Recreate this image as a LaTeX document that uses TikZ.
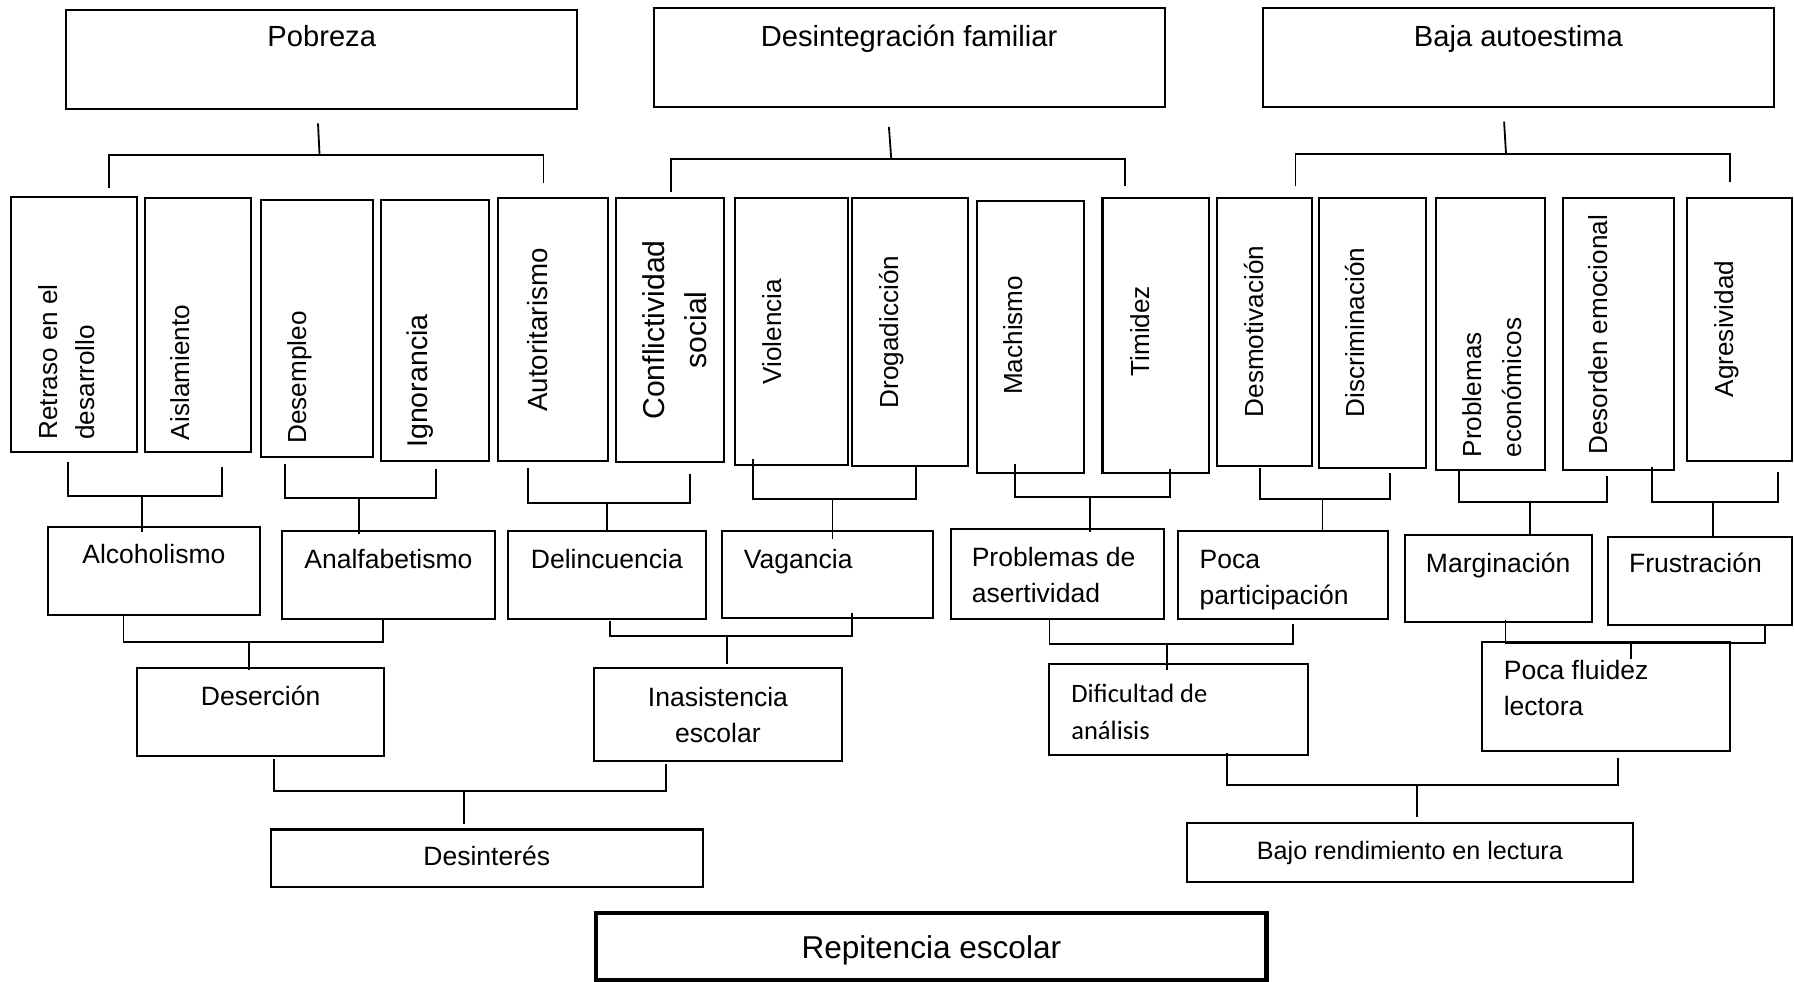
\documentclass[tikz,border=0pt]{standalone}
\usepackage{fontspec}
\setmainfont{Liberation Sans}
\newfontfamily\calibri{Carlito}
\usetikzlibrary{fit,calc}

\tikzset{
  caja/.style={rectangle, draw, line width=1pt, inner sep=0pt},
  cajagruesa/.style={caja, line width=2.2pt},
  titulo/.style={inner sep=0pt, font=\fontsize{14.5}{17}\selectfont},
  rotulo/.style={inner sep=0pt, font=\fontsize{13.2}{17.8}\selectfont},
  vertical/.style={rotate=90, inner sep=0pt, font=\fontsize{13}{18.2}\selectfont},
  linea/.style={line width=0.9pt},
}

\begin{document}
\begin{tikzpicture}[x=0.02cm, y=0.02cm]
\useasboundingbox (0,0) rectangle (1568,-858);

\node[caja, fit={(57.9,-8.7) (504.4,-95.3)}] (pobreza) {};
\node[caja, fit={(571.3,-7.3) (1017.8,-93.8)}] (desintegracion) {};
\node[caja, fit={(1103.8,-7.3) (1550.4,-93.8)}] (baja) {};
\node[titulo, anchor=base] (pobreza-t) at (281.2,-41) {Pobreza};
\node[titulo, anchor=base] (desintegracion-t) at (794.6,-41) {Desintegración familiar};
\node[titulo, anchor=base] (baja-t) at (1327.1,-41) {Baja autoestima};

\node[caja, fit={(10,-172) (120,-395)}] (retraso) {};
\node[caja, fit={(126.4,-173) (219,-395)}] (aislamiento) {};
\node[caja, fit={(228,-175) (326,-399)}] (desempleo) {};
\node[caja, fit={(333,-175) (427.5,-403)}] (ignorancia) {};
\node[caja, fit={(435.5,-173) (531,-403)}] (autoritarismo) {};
\node[caja, fit={(538.8,-173) (633.2,-404)}] (conflictividad) {};
\node[caja, fit={(642,-173) (741,-406)}] (violencia) {};
\node[caja, fit={(745,-173) (846,-407)}] (drogadiccion) {};
\node[caja, fit={(854,-175.4) (947.5,-413)}] (machismo) {};
\node[caja, fit={(963.6,-173) (1057,-413)}] (timidez) {};
\node[caja, fit={(1063.7,-173) (1146.8,-407)}] (desmotivacion) {};
\node[caja, fit={(1152.7,-173) (1246.3,-409)}] (discriminacion) {};
\node[caja, fit={(1254.7,-173) (1350,-411)}] (problemasEco) {};
\node[caja, fit={(1365.7,-173) (1463.4,-411)}] (desorden) {};
\node[caja, fit={(1474.5,-173) (1566,-402.6)}] (agresividad) {};

\node[vertical, anchor=north west, align=left] (retraso-t) at (33.5,-384.6) {Retraso en el\\desarrollo};
\node[vertical, anchor=north west] (aislamiento-t) at (149,-385) {Aislamiento};
\node[vertical, anchor=north west] (desempleo-t) at (251,-388) {Desempleo};
\node[vertical, anchor=north west, font=\fontsize{14.2}{18}\selectfont] (ignorancia-t) at (355,-391.7) {Ignorancia};
\node[vertical, anchor=north, font=\fontsize{13.8}{18}\selectfont] (autoritarismo-t) at (461,-288.4) {Autoritarismo};
\node[vertical, anchor=north, align=center, font=\fontsize{15}{21}\selectfont] (conflictividad-t) at (561.2,-288.4) {Conflictividad\\social};
\node[vertical, anchor=north] (violencia-t) at (666.5,-290) {Violencia};
\node[vertical, anchor=north] (drogadiccion-t) at (768,-290.3) {Drogadicción};
\node[vertical, anchor=north] (machismo-t) at (877,-293) {Machismo};
\node[vertical, anchor=north] (timidez-t) at (987.7,-289.5) {Timidez};
\node[vertical, anchor=north] (desmotivacion-t) at (1087,-289.8) {Desmotivación};
\node[vertical, anchor=north] (discriminacion-t) at (1175.6,-290.6) {Discriminación};
\node[vertical, anchor=north west, align=left, font=\fontsize{13}{20}\selectfont] (problemasEco-t) at (1278,-400) {Problemas\\económicos};
\node[vertical, anchor=north west] (desorden-t) at (1388,-397.7) {Desorden emocional};
\node[vertical, anchor=north] (agresividad-t) at (1498.6,-287.5) {Agresividad};

\node[caja, fit={(42,-460.3) (227,-537.3)}] (alcoholismo) {};
\node[caja, fit={(246.4,-464) (432.5,-541.3)}] (analfabetismo) {};
\node[caja, fit={(443.6,-464) (617.2,-541.3)}] (delincuencia) {};
\node[caja, fit={(630.7,-464) (815.5,-540.5)}] (vagancia) {};
\node[caja, fit={(831,-462) (1017,-541.3)}] (asertividad) {};
\node[caja, fit={(1030,-464) (1213,-541.3)}] (participacion) {};
\node[caja, fit={(1228,-468) (1391,-543.9)}] (marginacion) {};
\node[caja, fit={(1405.4,-469) (1566,-546.3)}] (frustracion) {};

\node[rotulo, anchor=base] (alcoholismo-t) at (134.5,-492.5) {Alcoholismo};
\node[rotulo, anchor=base] (analfabetismo-t) at (339.5,-497.3) {Analfabetismo};
\node[rotulo, anchor=base] (delincuencia-t) at (530.4,-497.3) {Delincuencia};
\node[rotulo, anchor=base west] (vagancia-t) at (649.8,-497.3) {Vagancia};
\node[rotulo, anchor=north west, align=left] (asertividad-t) at (849,-477.8) {Problemas de\\asertividad};
\node[rotulo, anchor=north west, align=left] (participacion-t) at (1048.2,-480.7) {Poca\\participación};
\node[rotulo, anchor=base] (marginacion-t) at (1309.5,-500.8) {Marginación};
\node[rotulo, anchor=base west] (frustracion-t) at (1423.5,-500.8) {Frustración};

\node[caja, fit={(119.5,-584) (336,-661)}] (desercion) {};
\node[caja, fit={(519,-584) (736,-665)}] (inasistencia) {};
\node[caja, fit={(917,-580) (1143,-660)}] (dificultad) {};
\node[caja, fit={(1295,-561) (1512,-656)}] (fluidez) {};

\node[rotulo, anchor=base] (desercion-t) at (227.8,-616.8) {Deserción};
\node[rotulo, anchor=north, align=center] (inasistencia-t) at (627.5,-600.2) {Inasistencia\\escolar};
\node[rotulo, anchor=north west, align=left, font=\calibri\fontsize{13.2}{18.5}\selectfont] (dificultad-t) at (936,-597.3) {Dificultad de\\análisis};
\node[rotulo, anchor=north west, align=left] (fluidez-t) at (1314,-576.9) {Poca fluidez\\lectora};

\node[caja, fit={(237,-725) (614,-775)}] (desinteres) {};
\node[caja, fit={(1037.5,-719) (1427,-771)}] (bajoRend) {};
\node[cajagruesa, fit={(521,-798) (1107,-856.6)}] (repitencia) {};

\node[rotulo, anchor=base] (desinteres-t) at (425.5,-756.6) {Desinterés};
\node[rotulo, anchor=base, font=\fontsize{12.5}{15}\selectfont] (bajoRend-t) at (1232.3,-751.4) {Bajo rendimiento en lectura};
\node[rotulo, anchor=base, font=\fontsize{15.7}{19}\selectfont] (repitencia-t) at (814,-838) {Repitencia escolar};

\coordinate (pobJ) at (279.3,-135.5);
\coordinate (pobL) at (95.3,-135.5);
\coordinate (pobR) at (475,-135.5);
\draw[linea] ($(pobreza.south)+(-3.2,-11.7)$) -- (pobJ);
\draw[linea] ($(pobL |- retraso.north)+(0,6.5)$) -- (pobL) -- (pobR) -- ($(pobR |- autoritarismo.north)+(0,12.2)$);

\coordinate (desJ) at (779,-139.3);
\coordinate (desL) at (586.3,-139.3);
\coordinate (desR) at (983.3,-139.3);
\draw[linea] ($(desintegracion.south)+(-17.6,-16.2)$) -- (desJ);
\draw[linea] ($(desL |- conflictividad.north)+(0,4.6)$) -- (desL) -- (desR) -- ($(desR |- timidez.north)+(0,9.3)$);

\coordinate (bajJ) at (1316.3,-134.6);
\coordinate (bajL) at (1132.2,-134.6);
\coordinate (bajR) at (1512,-134.6);
\draw[linea] ($(baja.south)+(-12.5,-11.7)$) -- (bajJ);
\draw[linea] ($(bajL |- desmotivacion.north)+(0,9.3)$) -- (bajL) -- (bajR) -- ($(bajR |- agresividad.north)+(0,13.3)$);

\coordinate (alcL) at (59.5,-433.5);
\coordinate (alcR) at (194,-433.5);
\coordinate (alcJ) at (124.4,-433.5);
\draw[linea] ($(alcL |- retraso.south)+(0,-7.6)$) -- (alcL) -- (alcR) -- ($(alcR |- aislamiento.south)+(0,-12.4)$);
\draw[linea] (alcJ) -- ($(alcJ |- alcoholismo.north)+(0,-5.3)$);

\coordinate (anaL) at (249.3,-435.6);
\coordinate (anaR) at (381.3,-435.6);
\coordinate (anaJ) at (313.5,-435.6);
\draw[linea] ($(anaL |- desempleo.south)+(0,-5.9)$) -- (anaL) -- (anaR) -- ($(anaR |- ignorancia.south)+(0,-6)$);
\draw[linea] (anaJ) -- ($(anaJ |- analfabetismo.north)+(0,-3.6)$);

\coordinate (delL) at (461.6,-439.4);
\coordinate (delR) at (603,-439.4);
\coordinate (delJ) at (530.4,-439.4);
\draw[linea] ($(delL |- autoritarismo.south)+(0,-5)$) -- (delL) -- (delR) -- ($(delR |- conflictividad.south)+(0,-9)$);
\draw[linea] (delJ) -- (delJ |- delincuencia.north);

\coordinate (vagL) at (658.2,-436.4);
\coordinate (vagR) at (800.6,-436.4);
\coordinate (vagJ) at (727.6,-436.4);
\draw[linea] ($(vagL |- violencia.south)+(0,5.5)$) -- (vagL) -- (vagR) -- ($(vagR |- drogadiccion.south)+(0,0.6)$);
\draw[linea] (vagJ) -- ($(vagJ |- vagancia.north)+(0,-8)$);

\coordinate (aseL) at (887,-434.7);
\coordinate (aseR) at (1022.6,-434.7);
\coordinate (aseJ) at (953,-434.7);
\draw[linea] ($(aseL |- machismo.south)+(0,8.6)$) -- (aseL) -- (aseR) -- ($(aseR |- timidez.south)+(0,4)$);
\draw[linea] (aseJ) -- ($(aseJ |- asertividad.north)+(0,-4.2)$);

\coordinate (parL) at (1101,-436.4);
\coordinate (parR) at (1215.2,-436.4);
\coordinate (parJ) at (1155.8,-436.4);
\draw[linea] ($(parL |- desmotivacion.south)+(0,-0.9)$) -- (parL) -- (parR) -- ($(parR |- discriminacion.south)+(0,-3.3)$);
\draw[linea] (parJ) -- ($(parJ |- participacion.north)+(0,-0.7)$);

\coordinate (marL) at (1275,-438.5);
\coordinate (marR) at (1404.8,-438.5);
\coordinate (marJ) at (1337.5,-438.5);
\draw[linea] ($(marL |- problemasEco.south)+(0,2)$) -- (marL) -- (marR) -- ($(marR |- desorden.south)+(0,-4)$);
\draw[linea] (marJ) -- (marJ |- marginacion.north);

\coordinate (fruL) at (1444,-438.5);
\coordinate (fruR) at (1553.7,-438.5);
\coordinate (fruJ) at (1497,-438.5);
\draw[linea] ($(fruL |- desorden.south)+(0,4)$) -- (fruL) -- (fruR) -- ($(fruR |- agresividad.south)+(0,-9.4)$);
\draw[linea] (fruJ) -- ($(fruJ |- frustracion.north)+(0,-1.5)$);

\coordinate (dseL) at (108,-560.8);
\coordinate (dseR) at (334.7,-560.8);
\coordinate (dseJ) at (217.3,-560.8);
\draw[linea] ($(dseL |- alcoholismo.south)+(0,1.8)$) -- (dseL) -- (dseR) -- ($(dseR |- analfabetismo.south)+(0,2.3)$);
\draw[linea] (dseJ) -- ($(dseJ |- desercion.north)+(0,-2.2)$);

\coordinate (inaL) at (532.9,-555.6);
\coordinate (inaR) at (744.6,-555.6);
\coordinate (inaJ) at (635.7,-555.6);
\draw[linea] ($(inaL |- delincuencia.south)+(0,-0.7)$) -- (inaL) -- (inaR) -- ($(inaR |- vagancia.south)+(0,5.9)$);
\draw[linea] (inaJ) -- ($(inaJ |- inasistencia.north)+(0,2.8)$);

\coordinate (difL) at (917.2,-562.9);
\coordinate (difR) at (1130,-562.9);
\coordinate (difJ) at (1020.3,-562.9);
\draw[linea] (difL |- asertividad.south) -- (difL) -- (difR) -- ($(difR |- participacion.south)+(0,-2.9)$);
\draw[linea] (difJ) -- ($(difJ |- dificultad.north)+(0,-6.2)$);

\coordinate (fluL) at (1315.9,-561.7);
\coordinate (fluR) at (1542.6,-561.7);
\coordinate (fluJ) at (1425.5,-561.7);
\draw[linea] ($(fluL |- marginacion.south)+(0,2.6)$) -- (fluL) -- (fluR) -- ($(fluR |- frustracion.south)+(0,2.1)$);
\draw[linea] (fluJ) -- ($(fluJ |- fluidez.north)+(0,-15.9)$);

\coordinate (dinL) at (239.5,-691.7);
\coordinate (dinR) at (582,-691.7);
\coordinate (dinJ) at (405.4,-691.7);
\draw[linea] ($(dinL |- desercion.south)+(0,-1.8)$) -- (dinL) -- (dinR) -- ($(dinR |- inasistencia.south)+(0,-2.2)$);
\draw[linea] (dinJ) -- ($(dinJ |- desinteres.north)+(0,3.9)$);

\coordinate (bajoL) at (1072.2,-685.8);
\coordinate (bajoR) at (1414.5,-685.8);
\coordinate (bajoJ) at (1238.5,-685.8);
\draw[linea] ($(bajoL |- dificultad.south)+(0,3)$) -- (bajoL) -- (bajoR) -- ($(bajoR |- fluidez.south)+(0,-5.4)$);
\draw[linea] (bajoJ) -- ($(bajoJ |- bajoRend.north)+(0,3.7)$);
\end{tikzpicture}
\end{document}
